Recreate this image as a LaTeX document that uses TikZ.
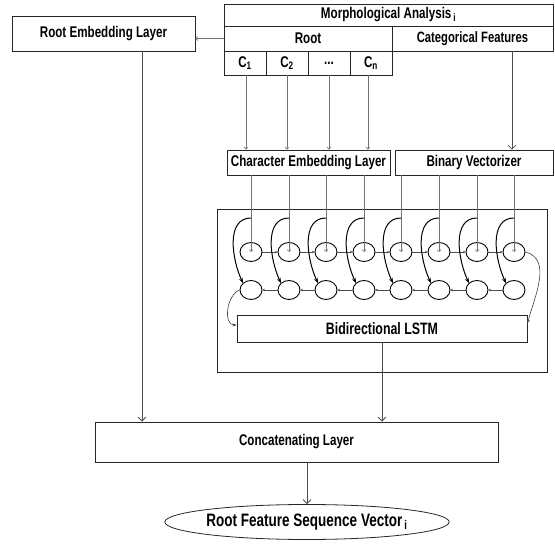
\documentclass[tikz,border=0pt]{standalone}
\usepackage{fontspec}
\setmainfont{Liberation Sans}[FakeStretch=0.75]
\usetikzlibrary{positioning, arrows.meta, shapes.geometric}

\begin{document}
\begin{tikzpicture}[x=1pt, y=-1pt, font=\fontsize{15.5}{17}\selectfont\bfseries,
  box/.style={draw=black!85, line width=0.8pt, inner sep=0pt},
  cell/.style={draw=black, line width=0.9pt, ellipse, minimum width=22, minimum height=19, inner sep=0pt},
  feed/.style={draw=black!55, line width=0.6pt, -{Straight Barb[length=2pt, width=4pt]}},
  hop/.style={draw=black!70, line width=0.6pt, -{Stealth[length=2.5pt, width=2.5pt]}},
  skip/.style={draw=black, line width=1pt, -{Stealth[length=5pt, width=4pt]}},
  merge/.style={draw=black!75, line width=0.6pt, -{Stealth[length=4pt, width=3pt]}},
  main/.style={draw=black!70, line width=0.8pt, -{Straight Barb[length=4pt, width=8pt]}}]

  \useasboundingbox (0,0) rectangle (555,548);

  % morphological analysis table
  \node[box, minimum width=329, minimum height=22] (morph)    at (388.5, 15)   {Morphological Analysis\textsubscript{\,i}};
  \node[box, minimum width=168, minimum height=25] (root)     at (308,   38.5) {Root};
  \node[box, minimum width=161, minimum height=25] (cat-feat) at (472.5, 38.5) {\fontsize{15}{17}\selectfont Categorical Features};
  \node[box, minimum width=42,  minimum height=24] (c-1)      at (245,   63)   {C\textsubscript{1}};
  \node[box, minimum width=42,  minimum height=24] (c-2)      at (287,   63)   {C\textsubscript{2}};
  \node[box, minimum width=42,  minimum height=24] (c-dots)   at (329,   63)   {...};
  \node[box, minimum width=42,  minimum height=24] (c-n)      at (371,   63)   {C\textsubscript{n}};

  \node[box, minimum width=183, minimum height=35] (root-emb) at (103.5, 33.5) {Root Embedding Layer};
  \draw[feed] (root.west) to (root.west -| root-emb.east);

  % embedding and vectorizer layers
  \node[box, minimum width=163, minimum height=25] (char-emb) at (308.5, 162.5) {Character Embedding Layer};
  \node[box, minimum width=158, minimum height=25] (bin-vec)  at (474,   162.5) {Binary Vectorizer};

  \draw[feed] ([xshift=1]c-1.south)    to ([xshift=1]c-1.south |- char-emb.north);
  \draw[feed] (c-2.south)              to (c-2.south |- char-emb.north);
  \draw[feed] (c-dots.south)           to (c-dots.south |- char-emb.north);
  \draw[feed] ([xshift=-3]c-n.south)   to ([xshift=-3]c-n.south |- char-emb.north);
  \draw[main, line width=0.7pt] ([xshift=39.5]cat-feat.south) to ([xshift=39.5]cat-feat.south |- bin-vec.north);

  % bidirectional lstm
  \node[box, minimum width=330, minimum height=163] (lstm-frame) at (382, 290.5) {};
  \node[box, minimum width=290, minimum height=27, font=\fontsize{16.5}{18}\selectfont\bfseries] (bilstm) at (382, 328.5) {Bidirectional LSTM};
  \coordinate (split-row) at (0, 218);

  \foreach \i/\x in {1/251, 2/289, 3/326, 4/364, 5/401, 6/439, 7/477, 8/514} {
    \node[cell] (fwd-\i) at (\x, 252) {};
    \node[cell] (bwd-\i) at (\x, 290) {};
  }

  \foreach \i [count=\j from 2] in {1,...,7} {
    \draw[hop] (fwd-\i) to (fwd-\j);
    \draw[hop] (bwd-\j) to (bwd-\i);
  }

  \foreach \i in {1,...,4}
    \draw[feed] (char-emb.south -| fwd-\i) to (fwd-\i.center);
  \foreach \i in {5,...,8}
    \draw[feed] (bin-vec.south -| fwd-\i) to (fwd-\i.center);

  \foreach \i in {1,...,8}
    \draw[skip] (fwd-\i |- split-row) to[out=180, in=115] (bwd-\i.north west);

  \draw[merge] (bwd-1.west) to[out=200, in=180] ([yshift=3.5]bilstm.west);
  \draw[merge] (fwd-8.east) to[out=-15, in=75] ([yshift=5]bilstm.east);

  % concatenation and output
  \node[box, minimum width=403, minimum height=40] (concat) at (296.5, 442) {Concatenating Layer};
  \node[box, ellipse, minimum width=262, minimum height=35, font=\fontsize{18}{20}\selectfont\bfseries] (vec) at (307, 522) {Root Feature Sequence Vector\textsubscript{\,i}};

  \draw[main] ([xshift=38.5]root-emb.south) to ([xshift=38.5]root-emb.south |- concat.north);
  \draw[main] (bilstm.south) to (bilstm.south |- concat.north);
  \draw[main] (concat.south -| vec.north) to (vec.north);

\end{tikzpicture}
\end{document}
